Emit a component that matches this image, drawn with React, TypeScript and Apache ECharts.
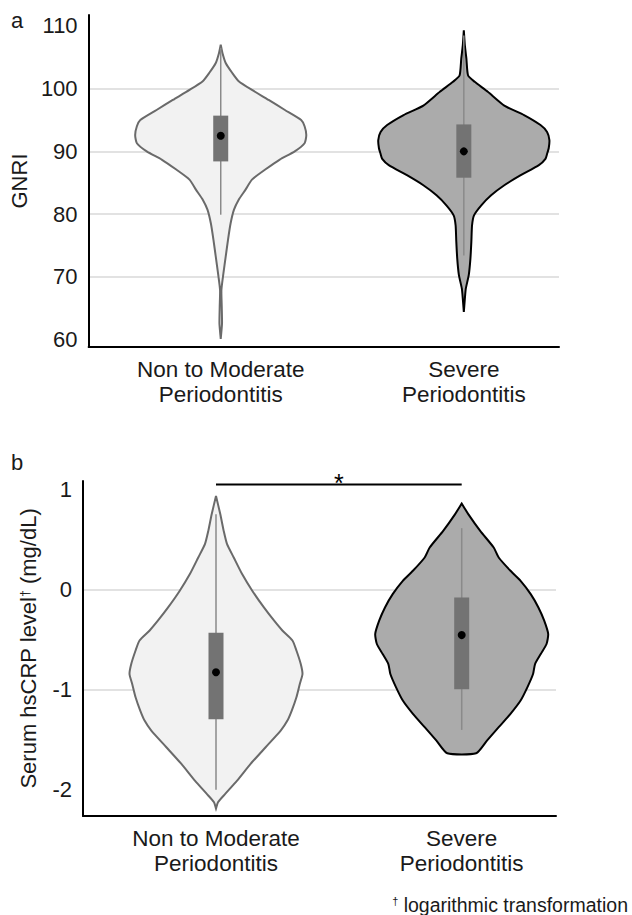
import React, { useEffect, useRef } from "react";
import * as echarts from "echarts";

// ---------- data ----------
const CATEGORIES = ["Non to Moderate\nPeriodontitis", "Severe\nPeriodontitis"];
const CAT_POS = [1, 2];

const GNRI_TICKS = [60, 70, 80, 90, 100, 110];
const CRP_TICKS = [-2, -1, 0, 1];

// violin outlines: [value, relative density (max = 1)]
const GNRI_NON: number[][] = [
  [107.0, 0], [105.7, 0.02], [104.1, 0.058], [102.5, 0.135], [101.2, 0.21],
  [99.8, 0.365], [98.2, 0.56], [96.6, 0.75], [95.0, 0.94], [94.0, 0.98],
  [92.6, 1.0], [91.3, 0.98], [90.0, 0.865], [88.7, 0.69], [87.1, 0.52],
  [85.5, 0.365], [83.9, 0.29], [82.3, 0.21], [80.7, 0.155], [78.5, 0.115],
  [75.9, 0.085], [73.2, 0.058], [70.5, 0.031], [67.9, 0.008], [65.2, 0.012],
  [62.5, 0.015], [60.1, 0],
];
const GNRI_SEV: number[][] = [
  [109.3, 0], [106.9, 0.012], [104.8, 0.03], [102.1, 0.05], [101.1, 0.127],
  [99.5, 0.28], [97.3, 0.473], [95.8, 0.704], [94.2, 0.896], [93.1, 0.973],
  [91.8, 1.0], [90.5, 0.992], [89.6, 0.973], [88.8, 0.954], [87.8, 0.877],
  [86.2, 0.665], [84.6, 0.473], [83.0, 0.319], [81.4, 0.204], [79.8, 0.119],
  [78.2, 0.096], [75.6, 0.088], [72.9, 0.077], [70.3, 0.058], [68.1, 0.023],
  [66.5, 0.012], [64.4, 0],
];
const CRP_NON: number[][] = [
  [0.934, 0], [0.75, 0.05], [0.585, 0.089], [0.452, 0.128], [0.319, 0.205],
  [0.153, 0.302], [-0.013, 0.419], [-0.18, 0.554], [-0.31, 0.67], [-0.41, 0.767],
  [-0.51, 0.884], [-0.61, 0.93], [-0.745, 0.98], [-0.845, 1.0], [-0.944, 0.969],
  [-1.077, 0.93], [-1.21, 0.876], [-1.31, 0.826], [-1.41, 0.748], [-1.576, 0.574],
  [-1.743, 0.4], [-1.91, 0.244], [-2.04, 0.109], [-2.125, 0.023], [-2.19, 0],
];
const CRP_SEV: number[][] = [
  [0.858, 0], [0.75, 0.078], [0.585, 0.214], [0.419, 0.37], [0.319, 0.428],
  [0.186, 0.564], [0.086, 0.681], [-0.047, 0.798], [-0.18, 0.887], [-0.31, 0.953],
  [-0.445, 1.0], [-0.545, 0.981], [-0.645, 0.914], [-0.745, 0.848], [-0.845, 0.825],
  [-0.978, 0.759], [-1.11, 0.681], [-1.243, 0.564], [-1.376, 0.428], [-1.51, 0.292],
  [-1.636, 0.167],
];

// box summaries: [lower whisker, Q1, median, Q3, upper whisker]
const GNRI_BOX_NON = [79.9, 88.4, 92.5, 95.7, 106.5];
const GNRI_BOX_SEV = [73.4, 85.8, 90.0, 94.3, 108.5];
const CRP_BOX_NON = [-2.0, -1.297, -0.828, -0.432, 0.75];
const CRP_BOX_SEV = [-1.403, -0.998, -0.456, -0.08, 0.612];

// significance bracket: [from, to, y]
const SIG_BRACKET = [1, 2, 1.048];
const SIG_LABEL = "*";

// ---------- style ----------
const FONT = "'Liberation Sans', Arial, sans-serif";
const TXT = "#1a1a1a";
const FILLS = ["#f2f2f2", "#ababab"];
const STROKES = ["#6a6a6a", "#000000"];
const BOX_FILL = "#737373";
const WHISKER = "#8a8a8a";
const VIOLIN_HALF = 0.352; // x-units at density 1
const BOX_HALF_PX = 7.5;

function violinSeries(idx: number, profiles: number[][][], boxes: number[][]) {
  return {
    type: "custom",
    xAxisIndex: idx,
    yAxisIndex: idx,
    clip: false,
    data: CAT_POS.map((x, i) => [x, boxes[i][2]]),
    encode: { x: 0, y: 1 },
    renderItem: (params: any, api: any) => {
      const i = params.dataIndex;
      const x = api.value(0);
      const prof = profiles[i];
      const box = boxes[i];
      const left = prof.map(([v, d]) => api.coord([x - d * VIOLIN_HALF, v]));
      const right = prof
        .slice()
        .reverse()
        .map(([v, d]) => api.coord([x + d * VIOLIN_HALF, v]));
      const pts = left.concat(right);
      const q3 = api.coord([x, box[3]]);
      const q1 = api.coord([x, box[1]]);
      const wTop = api.coord([x, box[4]]);
      const wBot = api.coord([x, box[0]]);
      const med = api.coord([x, box[2]]);
      return {
        type: "group",
        children: [
          {
            type: "polygon",
            shape: { points: pts, smooth: 0.2 },
            style: { fill: FILLS[i], stroke: STROKES[i], lineWidth: 2 },
          },
          {
            type: "line",
            shape: { x1: wTop[0], y1: wTop[1], x2: wBot[0], y2: wBot[1] },
            style: { stroke: WHISKER, lineWidth: 1.5 },
          },
          {
            type: "rect",
            shape: { x: q3[0] - BOX_HALF_PX, y: q3[1], width: BOX_HALF_PX * 2, height: q1[1] - q3[1] },
            style: { fill: BOX_FILL },
          },
          {
            type: "circle",
            shape: { cx: med[0], cy: med[1], r: 4 },
            style: { fill: "#000" },
          },
        ],
      };
    },
  };
}

function xAxis(idx: number, min: number, max: number) {
  return {
    type: "value",
    gridIndex: idx,
    min,
    max,
    axisLine: { show: true, onZero: false, lineStyle: { color: "#000", width: 2 } },
    axisTick: { show: false },
    splitLine: { show: false },
    axisLabel: {
      customValues: CAT_POS,
      formatter: (v: number) => CATEGORIES[Math.round(v) - 1] ?? "",
      fontSize: 22.5,
      lineHeight: 25,
      color: TXT,
      fontFamily: FONT,
      margin: 10,
    },
  };
}

function yAxis(idx: number, min: number, max: number, ticks: number[], name: string, gap: number, rich?: any) {
  return {
    type: "value",
    gridIndex: idx,
    min,
    max,
    name,
    nameLocation: "middle",
    nameRotate: 90,
    nameGap: gap,
    nameTextStyle: { fontSize: 22, color: TXT, fontFamily: FONT, rich },
    axisLine: { show: true, onZero: false, lineStyle: { color: "#000", width: 2 } },
    axisTick: { show: false, customValues: ticks },
    axisLabel: {
      customValues: ticks,
      fontSize: 22,
      color: TXT,
      fontFamily: FONT,
      margin: 11,
      showMinLabel: true,
      showMaxLabel: true,
    },
    splitLine: {
      show: true,
      showMinLine: false,
      showMaxLine: false,
      lineStyle: { color: "#d9d9d9", width: 1.5 },
    },
  };
}

export default function App() {
  const ref = useRef<HTMLDivElement>(null);
  useEffect(() => {
    if (!ref.current) return;
    const chart = echarts.init(ref.current, null, { renderer: "svg" });
    const supRich = {
      sup: { fontSize: 12, verticalAlign: "top", fontFamily: FONT, color: TXT, padding: [2, 0, 0, 0] },
    };
    chart.setOption({
      animation: false,
      backgroundColor: "#ffffff",
      grid: [
        { left: 83, top: 15, width: 476, height: 332 },
        { left: 83, top: 481, width: 473, height: 335 },
      ],
      xAxis: [xAxis(0, 0.4565, 2.3915), xAxis(1, 0.4587, 2.3838)],
      yAxis: [
        yAxis(0, 58.8, 111.75, GNRI_TICKS, "GNRI", 42),
        yAxis(1, -2.263, 1.083, CRP_TICKS, "Serum hsCRP level{sup|†} (mg/dL)", 44, supRich),
      ],
      series: [
        violinSeries(0, [GNRI_NON, GNRI_SEV], [GNRI_BOX_NON, GNRI_BOX_SEV]),
        violinSeries(1, [CRP_NON, CRP_SEV], [CRP_BOX_NON, CRP_BOX_SEV]),
        {
          type: "custom",
          xAxisIndex: 1,
          yAxisIndex: 1,
          clip: false,
          data: [SIG_BRACKET],
          encode: { x: [0, 1], y: 2 },
          renderItem: (_p: any, api: any) => {
            const a = api.coord([api.value(0), api.value(2)]);
            const b = api.coord([api.value(1), api.value(2)]);
            return {
              type: "group",
              children: [
                {
                  type: "line",
                  shape: { x1: a[0], y1: a[1], x2: b[0], y2: b[1] },
                  style: { stroke: "#000", lineWidth: 2 },
                },
                {
                  type: "text",
                  x: (a[0] + b[0]) / 2,
                  y: a[1] - 2,
                  style: {
                    text: SIG_LABEL,
                    fontSize: 25,
                    fontFamily: FONT,
                    fill: "#000",
                    align: "center",
                    verticalAlign: "middle",
                  },
                },
              ],
            };
          },
        },
      ],
      graphic: [
        {
          type: "text",
          left: 11,
          top: 9,
          style: { text: "a", fontSize: 22, fontFamily: FONT, fill: TXT },
        },
        {
          type: "text",
          left: 11,
          top: 451,
          style: { text: "b", fontSize: 22, fontFamily: FONT, fill: TXT },
        },
        {
          type: "text",
          right: 4,
          top: 895,
          style: {
            text: "{sup|†} logarithmic transformation",
            fontSize: 19.5,
            fontFamily: FONT,
            fill: TXT,
            rich: { sup: { fontSize: 11, verticalAlign: "top", fontFamily: FONT, fill: TXT } },
          },
        },
      ],
    });
    return () => chart.dispose();
  }, []);
  return (
    <div
      ref={ref}
      style={{ position: "absolute", left: 0, top: 0, width: 632, height: 915, background: "#fff" }}
    />
  );
}
